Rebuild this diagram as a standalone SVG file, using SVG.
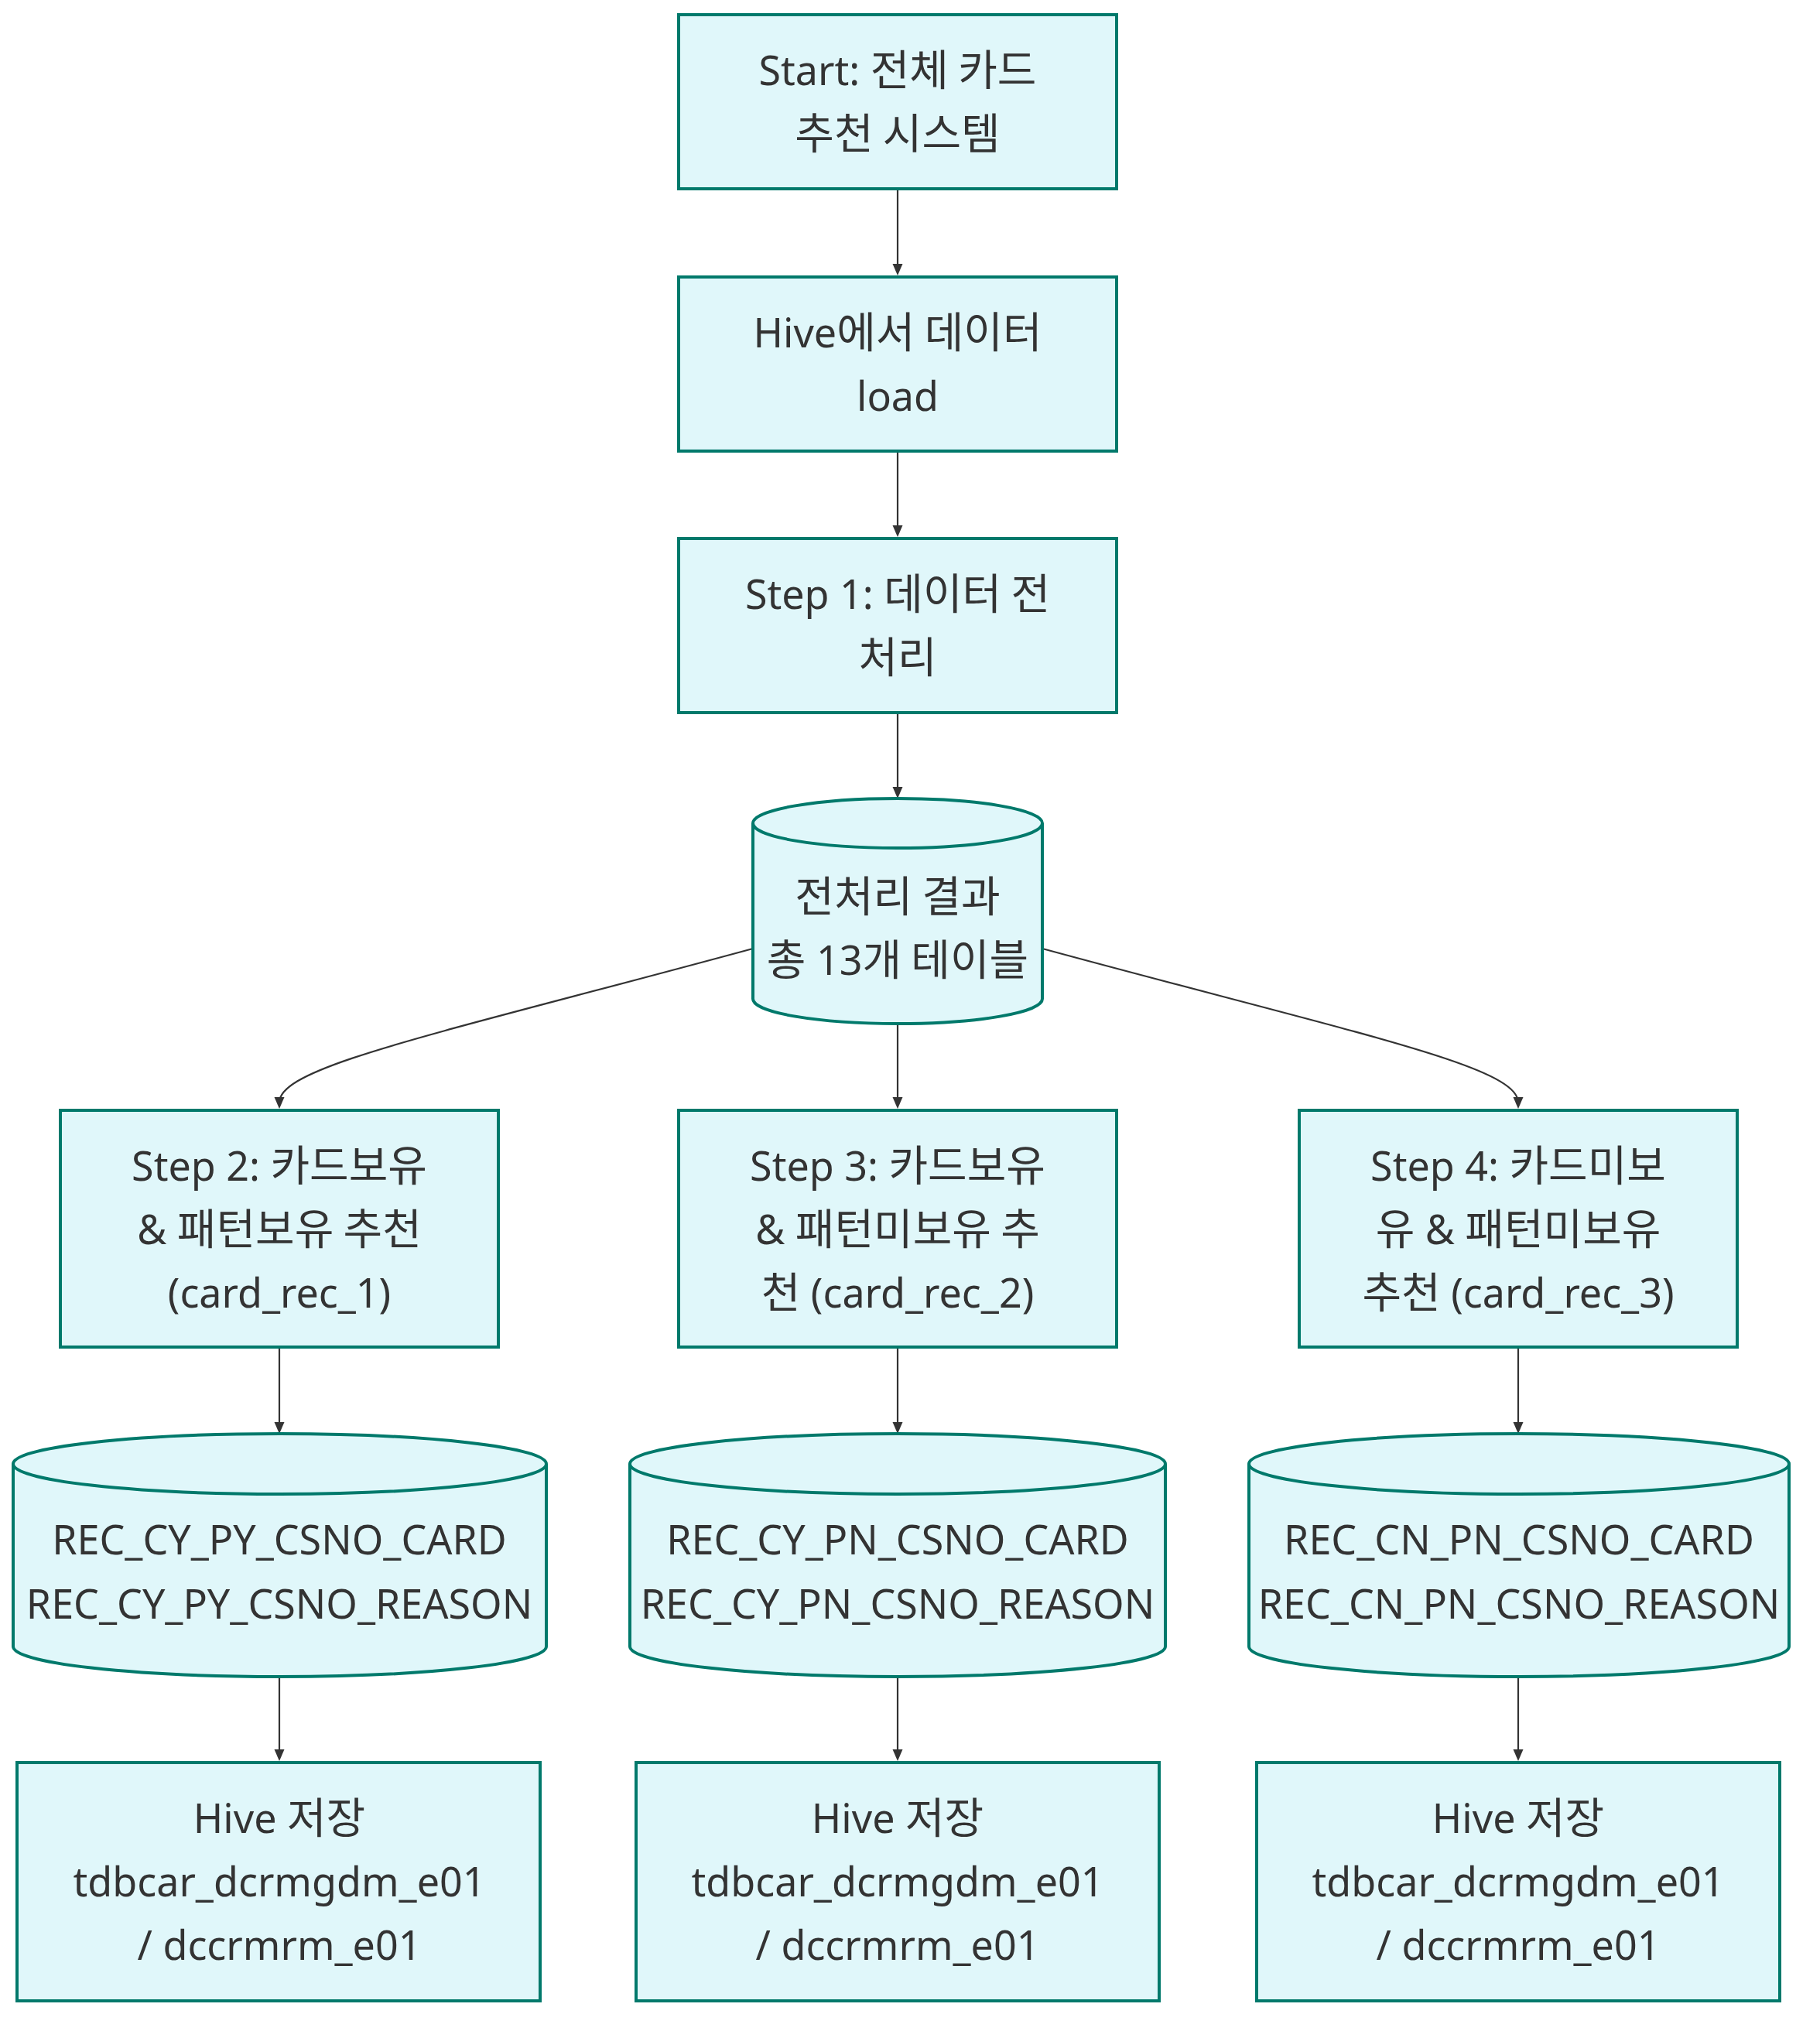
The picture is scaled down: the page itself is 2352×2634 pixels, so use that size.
<svg xmlns="http://www.w3.org/2000/svg" width="2352" height="2634" viewBox="0 0 2352 2634">
<defs>
<style>
.node{fill:#e0f7fa;stroke:#00796b;stroke-width:4}
.lbl{font-family:"Noto Sans","Noto Sans CJK KR",sans-serif;font-size:52px;fill:#333;text-anchor:middle}
.k{font-family:"Noto Sans CJK KR","Noto Sans",sans-serif;font-size:55px}
.edge{fill:none;stroke:#333;stroke-width:2.2}
</style>
<marker id="arr" markerUnits="userSpaceOnUse" markerWidth="16" markerHeight="14" refX="7" refY="6.5" orient="auto">
<path d="M0,0 L15,6.5 L0,13 z" fill="#333"/>
</marker>
</defs>
<rect width="2352" height="2634" fill="#ffffff"/>
<g id="edges">
<path class="edge" d="M1160,246 L1160,348" marker-end="url(#arr)"/>
<path class="edge" d="M1160,585 L1160,686" marker-end="url(#arr)"/>
<path class="edge" d="M1160,923 L1160,1024" marker-end="url(#arr)"/>
<path class="edge" d="M973,1226 C560,1338 361,1378 361,1425" marker-end="url(#arr)"/>
<path class="edge" d="M1160,1323 L1160,1425" marker-end="url(#arr)"/>
<path class="edge" d="M1347,1226 C1760,1338 1962,1378 1962,1425" marker-end="url(#arr)"/>
<path class="edge" d="M361,1743 L361,1845" marker-end="url(#arr)"/>
<path class="edge" d="M1160,1743 L1160,1845" marker-end="url(#arr)"/>
<path class="edge" d="M1962,1743 L1962,1845" marker-end="url(#arr)"/>
<path class="edge" d="M361,2167 L361,2268" marker-end="url(#arr)"/>
<path class="edge" d="M1160,2167 L1160,2268" marker-end="url(#arr)"/>
<path class="edge" d="M1962,2167 L1962,2268" marker-end="url(#arr)"/>
</g>
<g id="start">
<rect class="node" x="877" y="19" width="566" height="225"/>
<text class="lbl" x="1160" y="110">Start: <tspan class="k">전체 카드</tspan></text>
<text class="lbl" x="1160" y="192"><tspan class="k">추천 시스템</tspan></text>
</g>
<g id="load">
<rect class="node" x="877" y="358" width="566" height="225"/>
<text class="lbl" x="1160" y="449">Hive<tspan class="k">에서 데이터</tspan></text>
<text class="lbl" x="1160" y="531">load</text>
</g>
<g id="step1">
<rect class="node" x="877" y="696" width="566" height="225"/>
<text class="lbl" x="1160" y="787">Step 1: <tspan class="k">데이터 전</tspan></text>
<text class="lbl" x="1160" y="869"><tspan class="k">처리</tspan></text>
</g>
<g id="prep">
<path class="node" d="M973,1064 a187,32 0 0 0 374,0 a187,32 0 0 0 -374,0 l0,227 a187,32 0 0 0 374,0 l0,-227"/>
<text class="lbl" x="1160" y="1178"><tspan class="k">전처리 결과</tspan></text>
<text class="lbl" x="1160" y="1260"><tspan class="k">총</tspan> 13<tspan class="k">개 테이블</tspan></text>
</g>
<g id="step2">
<rect class="node" x="78" y="1435" width="566" height="306"/>
<text class="lbl" x="361" y="1526">Step 2: <tspan class="k">카드보유</tspan></text>
<text class="lbl" x="361" y="1608">&amp; <tspan class="k">패턴보유 추천</tspan></text>
<text class="lbl" x="361" y="1690">(card_rec_1)</text>
</g>
<g id="step3">
<rect class="node" x="877" y="1435" width="566" height="306"/>
<text class="lbl" x="1160" y="1526">Step 3: <tspan class="k">카드보유</tspan></text>
<text class="lbl" x="1160" y="1608">&amp; <tspan class="k">패턴미보유 추</tspan></text>
<text class="lbl" x="1160" y="1690"><tspan class="k">천</tspan> (card_rec_2)</text>
</g>
<g id="step4">
<rect class="node" x="1679" y="1435" width="566" height="306"/>
<text class="lbl" x="1962" y="1526">Step 4: <tspan class="k">카드미보</tspan></text>
<text class="lbl" x="1962" y="1608"><tspan class="k">유</tspan> &amp; <tspan class="k">패턴미보유</tspan></text>
<text class="lbl" x="1962" y="1690"><tspan class="k">추천</tspan> (card_rec_3)</text>
</g>
<g id="res1">
<path class="node" d="M17,1892 a344.5,39 0 0 0 689,0 a344.5,39 0 0 0 -689,0 l0,236 a344.5,39 0 0 0 689,0 l0,-236"/>
<text class="lbl" x="361" y="2009">REC_CY_PY_CSNO_CARD</text>
<text class="lbl" x="361" y="2092">REC_CY_PY_CSNO_REASON</text>
</g>
<g id="res2">
<path class="node" d="M814,1892 a346,39 0 0 0 692,0 a346,39 0 0 0 -692,0 l0,236 a346,39 0 0 0 692,0 l0,-236"/>
<text class="lbl" x="1160" y="2009">REC_CY_PN_CSNO_CARD</text>
<text class="lbl" x="1160" y="2092">REC_CY_PN_CSNO_REASON</text>
</g>
<g id="res3">
<path class="node" d="M1614,1892 a349,39 0 0 0 698,0 a349,39 0 0 0 -698,0 l0,236 a349,39 0 0 0 698,0 l0,-236"/>
<text class="lbl" x="1963" y="2009">REC_CN_PN_CSNO_CARD</text>
<text class="lbl" x="1963" y="2092">REC_CN_PN_CSNO_REASON</text>
</g>
<g id="save1">
<rect class="node" x="22" y="2278" width="676" height="308"/>
<text class="lbl" x="361" y="2369">Hive <tspan class="k">저장</tspan></text>
<text class="lbl" x="361" y="2451">tdbcar_dcrmgdm_e01</text>
<text class="lbl" x="361" y="2533">/ dccrmrm_e01</text>
</g>
<g id="save2">
<rect class="node" x="822" y="2278" width="676" height="308"/>
<text class="lbl" x="1160" y="2369">Hive <tspan class="k">저장</tspan></text>
<text class="lbl" x="1160" y="2451">tdbcar_dcrmgdm_e01</text>
<text class="lbl" x="1160" y="2533">/ dccrmrm_e01</text>
</g>
<g id="save3">
<rect class="node" x="1624" y="2278" width="676" height="308"/>
<text class="lbl" x="1962" y="2369">Hive <tspan class="k">저장</tspan></text>
<text class="lbl" x="1962" y="2451">tdbcar_dcrmgdm_e01</text>
<text class="lbl" x="1962" y="2533">/ dccrmrm_e01</text>
</g>
</svg>
